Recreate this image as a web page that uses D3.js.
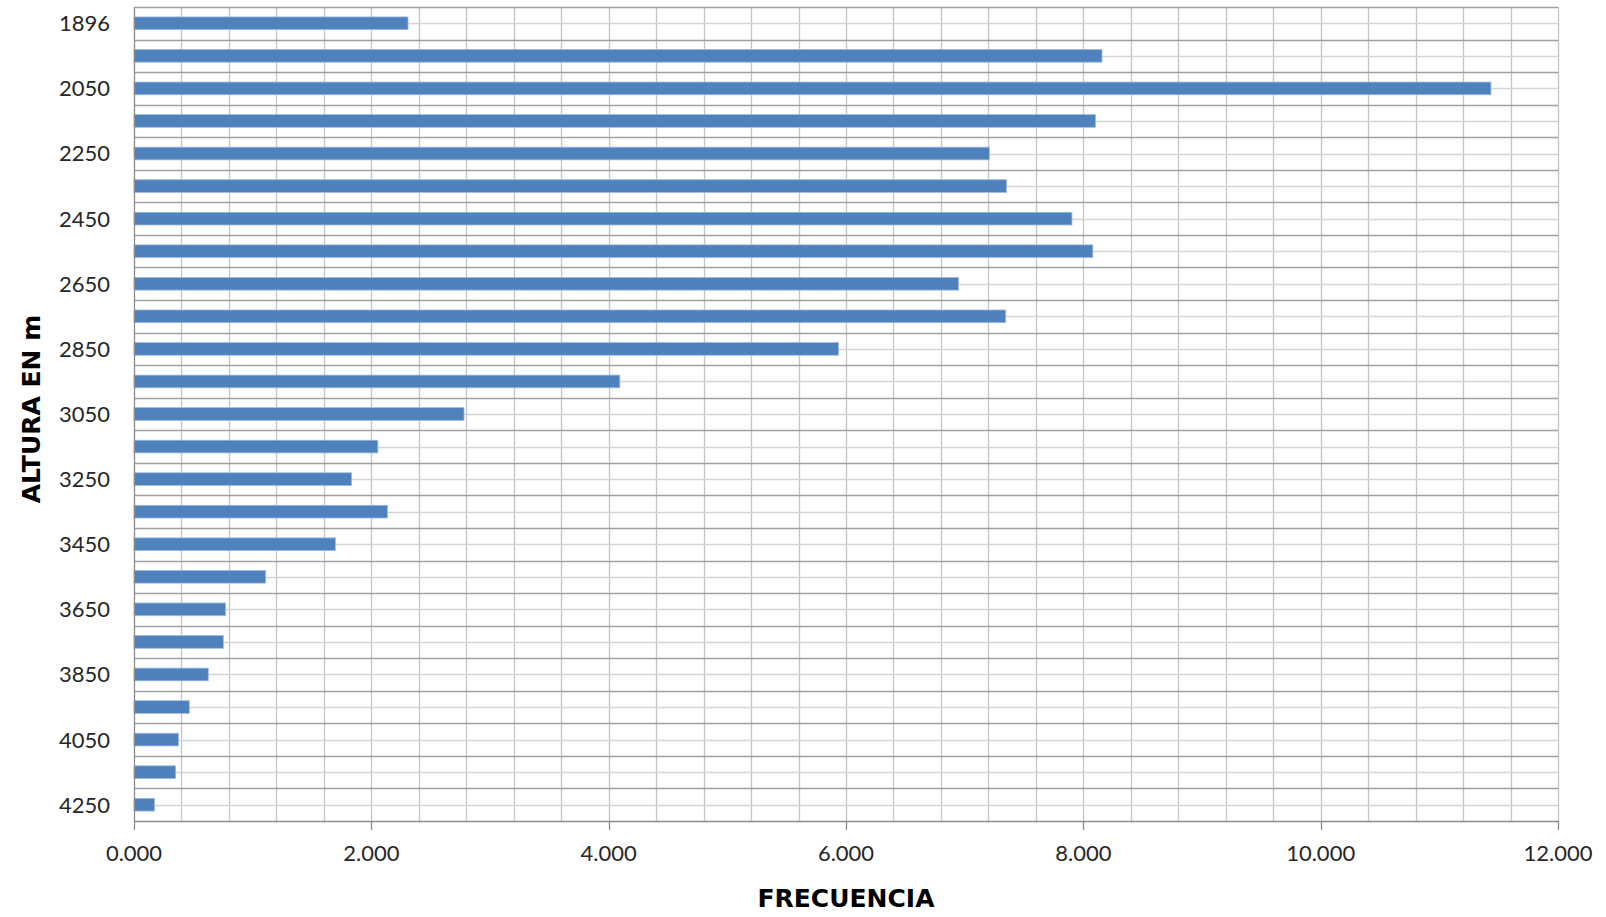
<!DOCTYPE html>
<html>
<head>
<meta charset="utf-8">
<script src="https://cdn.jsdelivr.net/npm/d3@7"></script>
<style>
  body { margin: 0; background: #fff; }
  svg { display: block; }
  text { font-family: Lato, "Open Sans", sans-serif; }
  .titulo { font-family: "DejaVu Sans", "Open Sans", sans-serif; font-weight: bold; }
</style>
</head>
<body>
<div id="chart"></div>
<script>
// altitude classes (only every second one gets a label, like the original)
var alturas = ["1896","1950","2050","2150","2250","2350","2450","2550","2650","2750",
               "2850","2950","3050","3150","3250","3350","3450","3550","3650","3750",
               "3850","3950","4050","4150","4250"];
var frecuencias = [2309, 8157, 11435, 8103, 7208, 7353, 7904, 8080, 6948, 7346,
                   5937, 4094, 2781, 2055, 1834, 2137, 1697, 1110, 772, 753,
                   626, 466, 374, 351, 172];
var xTicks = [0, 2000, 4000, 6000, 8000, 10000, 12000];
var xTickLabels = ["0.000","2.000","4.000","6.000","8.000","10.000","12.000"];

var W = 1606, H = 917;
// note: "top" is taken by window.top, so use other names
var plotLeft = 134, plotRight = 1558, plotTop = 7, plotBottom = 821;

var svg = d3.select("#chart").append("svg")
    .attr("width", W)
    .attr("height", H);

var x = d3.scaleLinear().domain([0, 12000]).range([plotLeft, plotRight]);
var y = d3.scaleBand().domain(alturas).range([plotTop, plotBottom])
    .paddingInner(0.61).paddingOuter(0.305);
var step = y.step();

// vertical grid, every 400
var minorX = d3.range(400, 12001, 400);
svg.append("g").selectAll("line")
  .data(minorX)
  .enter().append("line")
    .attr("x1", function(d) { return Math.round(x(d)) + 0.5; })
    .attr("x2", function(d) { return Math.round(x(d)) + 0.5; })
    .attr("y1", plotTop)
    .attr("y2", plotBottom)
    .attr("stroke", "#c4c4c4")
    .attr("stroke-width", 1.3);

// horizontal grid: light line through each category centre
svg.append("g").selectAll("line")
  .data(alturas)
  .enter().append("line")
    .attr("x1", plotLeft)
    .attr("x2", plotRight)
    .attr("y1", function(d) { return Math.round(y(d) + y.bandwidth() / 2) + 0.5; })
    .attr("y2", function(d) { return Math.round(y(d) + y.bandwidth() / 2) + 0.5; })
    .attr("stroke", "#d4d4d4")
    .attr("stroke-width", 1.3);

// darker line on every category boundary
svg.append("g").selectAll("line")
  .data(d3.range(0, alturas.length))
  .enter().append("line")
    .attr("x1", plotLeft)
    .attr("x2", plotRight)
    .attr("y1", function(i) { return Math.round(plotTop + i * step) + 0.5; })
    .attr("y2", function(i) { return Math.round(plotTop + i * step) + 0.5; })
    .attr("stroke", "#a0a0a0")
    .attr("stroke-width", 1.3);

// bars
svg.append("g").selectAll("rect")
  .data(alturas)
  .enter().append("rect")
    .attr("x", x(0))
    .attr("y", function(d) { return y(d); })
    .attr("width", function(d, i) { return x(frecuencias[i]) - x(0); })
    .attr("height", y.bandwidth())
    .attr("fill", "#4f81bd")
    .attr("stroke", "#9fbbe0")
    .attr("stroke-width", 0.8);

// axes lines
svg.append("line")
    .attr("x1", plotLeft + 0.5).attr("x2", plotLeft + 0.5)
    .attr("y1", plotTop).attr("y2", plotBottom)
    .attr("stroke", "#8c8c8c").attr("stroke-width", 1.3);
svg.append("line")
    .attr("x1", plotLeft).attr("x2", plotRight)
    .attr("y1", plotBottom + 0.5).attr("y2", plotBottom + 0.5)
    .attr("stroke", "#8c8c8c").attr("stroke-width", 1.3);

// x ticks + labels
var xAxis = svg.append("g");
xAxis.selectAll("line")
  .data(xTicks)
  .enter().append("line")
    .attr("x1", function(d) { return Math.round(x(d)) + 0.5; })
    .attr("x2", function(d) { return Math.round(x(d)) + 0.5; })
    .attr("y1", plotBottom)
    .attr("y2", plotBottom + 9)
    .attr("stroke", "#8c8c8c")
    .attr("stroke-width", 1.3);
xAxis.selectAll("text")
  .data(xTicks)
  .enter().append("text")
    .attr("x", function(d) { return x(d); })
    .attr("y", 861)
    .attr("text-anchor", "middle")
    .attr("font-size", 22)
    .attr("fill", "#262626")
    .text(function(d, i) { return xTickLabels[i]; });

// y labels, every other category
svg.append("g").selectAll("text")
  .data(alturas.filter(function(d, i) { return i % 2 === 0; }))
  .enter().append("text")
    .attr("x", 110)
    .attr("y", function(d) { return y(d) + y.bandwidth() / 2; })
    .attr("dy", "0.36em")
    .attr("text-anchor", "end")
    .attr("font-size", 22)
    .attr("fill", "#262626")
    .text(function(d) { return d; });

// axis titles
svg.append("text")
    .attr("class", "titulo")
    .attr("x", (plotLeft + plotRight) / 2)
    .attr("y", 907)
    .attr("text-anchor", "middle")
    .attr("font-size", 25)
    .attr("fill", "#000")
    .text("FRECUENCIA");

svg.append("text")
    .attr("class", "titulo")
    .attr("transform", "translate(40," + ((plotTop + plotBottom) / 2 - 5) + ") rotate(-90)")
    .attr("text-anchor", "middle")
    .attr("font-size", 25)
    .attr("fill", "#000")
    .text("ALTURA EN m");
</script>
</body>
</html>
